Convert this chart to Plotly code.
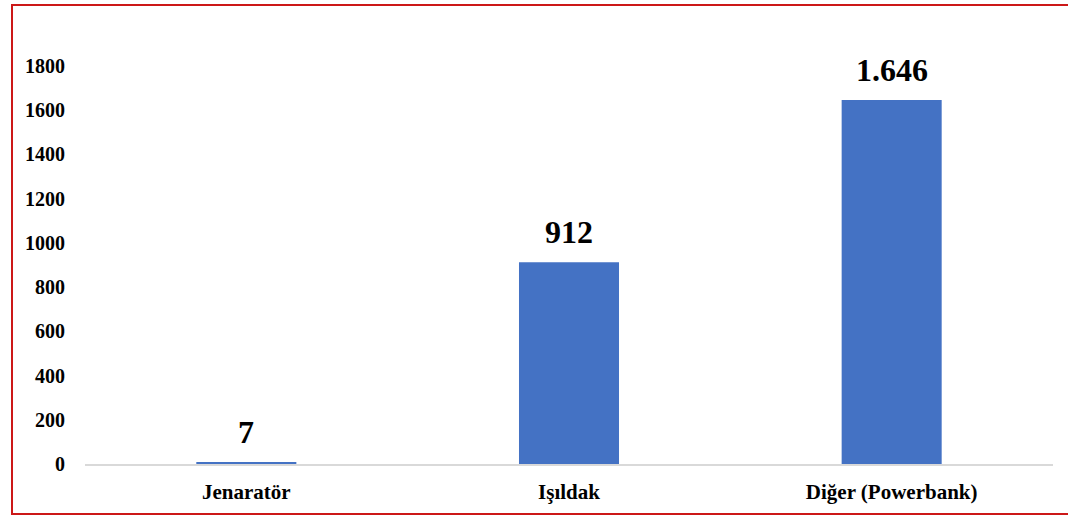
import plotly.graph_objects as go

categories = ["Jenaratör", "Işıldak", "Diğer (Powerbank)"]
values = [7, 912, 1646]
value_labels = ["7", "912", "1.646"]
y_ticks = [0, 200, 400, 600, 800, 1000, 1200, 1400, 1600, 1800]

W, H = 1068, 519
L, R, T, B = 85, 15, 66, 55
pw = W - L - R
ph = H - T - B

fig = go.Figure(go.Bar(
    x=categories, y=values,
    marker=dict(color="#4472C4", line=dict(width=0)),
    hoverinfo="x+y",
))

for c, v, lab in zip(categories, values, value_labels):
    fig.add_annotation(
        x=c, y=v, text="<b>" + lab + "</b>", showarrow=False,
        yanchor="bottom", yshift=10,
        font=dict(family="Liberation Serif", size=32, color="#000000"),
    )

fig.update_layout(
    width=W, height=H,
    margin=dict(l=L, r=R, t=T, b=B),
    paper_bgcolor="white", plot_bgcolor="white",
    bargap=0.69,
    showlegend=False,
    font=dict(family="Liberation Serif", color="#000000"),
    xaxis=dict(
        showline=True, linecolor="#D9D9D9", linewidth=1.5,
        showgrid=False, ticks="",
        tickfont=dict(family="Liberation Serif", size=21, color="#000000", weight="bold"),
        ticklabelstandoff=8,
    ),
    yaxis=dict(
        range=[0, 1800], tickvals=y_ticks, ticktext=[str(v) for v in y_ticks],
        showgrid=False, showline=False, zeroline=False, ticks="",
        tickfont=dict(family="Liberation Serif", size=20, color="#000000", weight="bold"),
        ticklabelstandoff=19,
    ),
    shapes=[dict(
        type="rect", xref="paper", yref="paper",
        x0=(12 - L) / pw, x1=(1075 - L) / pw,
        y0=(H - B - 514) / ph, y1=(H - B - 5) / ph,
        line=dict(color="#CC1818", width=2),
        fillcolor="rgba(0,0,0,0)",
    )],
)

fig.write_html("out.html", config={"displayModeBar": False},
               post_script="document.body.style.margin='0';")
